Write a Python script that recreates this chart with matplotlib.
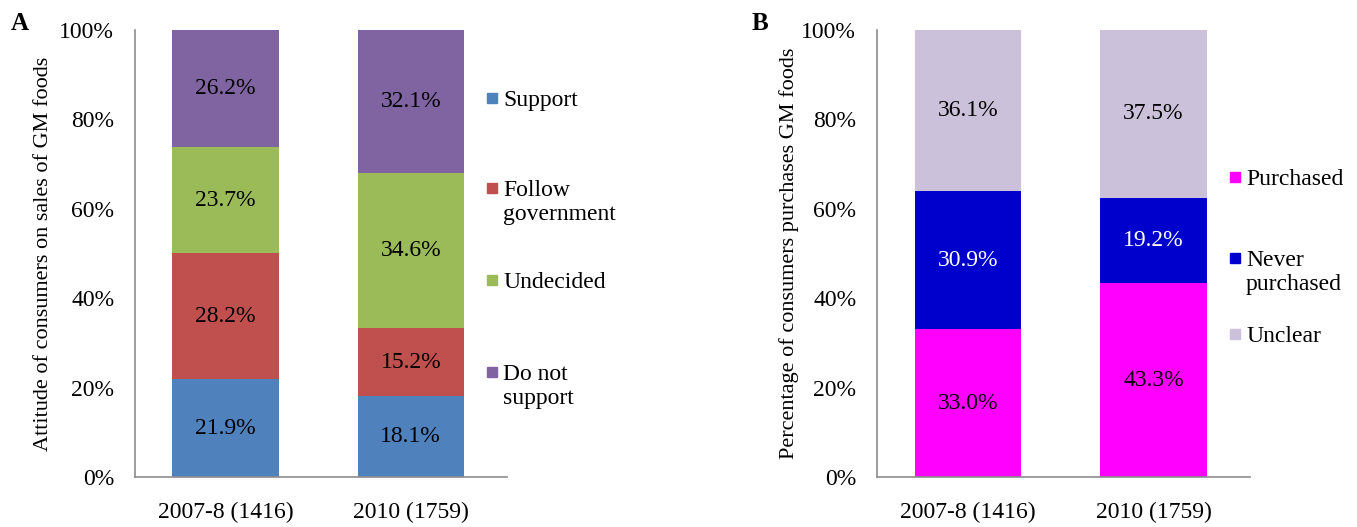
import numpy as np
import matplotlib
matplotlib.use('Agg')
import matplotlib.pyplot as plt
from matplotlib.patches import Rectangle
from matplotlib.ticker import PercentFormatter

plt.rcParams['font.family'] = ['Liberation Serif', 'DejaVu Serif']

# data
years = ['2007-8 (1416)', '2010 (1759)']

attitude_labels = ['Support', 'Follow\ngovernment', 'Undecided', 'Do not\nsupport']
attitude_values = [
    [21.9, 18.1],   # Support
    [28.2, 15.2],   # Follow government
    [23.7, 34.6],   # Undecided
    [26.2, 32.1],   # Do not support
]
attitude_colors = ['#4F81BD', '#C0504D', '#9BBB59', '#8064A2']
attitude_text = ['black', 'black', 'black', 'black']

purchase_labels = ['Purchased', 'Never\npurchased', 'Unclear']
purchase_values = [
    [33.0, 43.3],   # Purchased
    [30.9, 19.2],   # Never purchased
    [36.1, 37.5],   # Unclear
]
purchase_colors = ['#FF00FF', '#0000CC', '#CCC1DA']
purchase_text = ['black', 'white', 'black']


def stacked_panel(ax, values, labels, colors, txt_colors, ylabel, letter, leg_y, ylab_x):
    x = np.arange(len(years))
    bottom = np.zeros(len(years))
    for vals, col, tc in zip(values, colors, txt_colors):
        vals = np.array(vals)
        ax.bar(x, vals, 0.575, bottom=bottom, color=col, edgecolor='none', zorder=2)
        for xi, b, v in zip(x, bottom, vals):
            ax.text(xi, b + v / 2, f'{v:.1f}%', ha='center', va='center', fontsize=17, color=tc)
        bottom += vals

    ax.set_xlim(-0.49, 1.52)
    ax.set_ylim(0, 100)
    ax.set_yticks(np.arange(0, 101, 20))
    ax.yaxis.set_major_formatter(PercentFormatter(decimals=0))
    ax.set_xticks(x)
    ax.set_xticklabels(years)
    ax.tick_params(axis='both', length=0, labelsize=17)
    ax.tick_params(axis='y', pad=15)
    ax.tick_params(axis='x', pad=18)
    for s in ['top', 'right']:
        ax.spines[s].set_visible(False)
    for s in ['left', 'bottom']:
        ax.spines[s].set_color('#8C8C8C')
        ax.spines[s].set_linewidth(1.2)
    ax.set_ylabel(ylabel, fontsize=16)
    ax.yaxis.set_label_coords(ylab_x, 0.5)
    ax.text(-0.335, 1.015, letter, transform=ax.transAxes, fontsize=18, fontweight='bold',
            ha='left', va='center')

    # legend drawn by hand (marker aligned with first text line)
    sq_w, sq_h = 10 / 372, 10 / 447
    for lab, col, yy in zip(labels, colors, leg_y):
        ya = 1 - (yy - 30) / 447
        ax.add_patch(Rectangle((1.0 - 20 / 372, ya - sq_h / 2), sq_w, sq_h, transform=ax.transAxes,
                               color=col, clip_on=False))
        ax.text(1.0 - 4 / 372, ya + 8 / 447, lab, transform=ax.transAxes, fontsize=17,
                ha='left', va='top', linespacing=1.2)


fig = plt.figure(figsize=(13.57, 5.27), dpi=100)
axA = fig.add_axes([135 / 1357, 1 - 477 / 527, 372 / 1357, 447 / 527])
axB = fig.add_axes([877 / 1357, 1 - 477 / 527, 373 / 1357, 447 / 527])

stacked_panel(axA, attitude_values, attitude_labels, attitude_colors, attitude_text,
              'Attitude of consumers on sales of GM foods', 'A', [98, 188, 280, 372], -0.22)
stacked_panel(axB, purchase_values, purchase_labels, purchase_colors, purchase_text,
              'Percentage of consumers purchases GM foods', 'B', [177, 258, 334], -0.21)

fig.savefig('out.png', dpi=100)
